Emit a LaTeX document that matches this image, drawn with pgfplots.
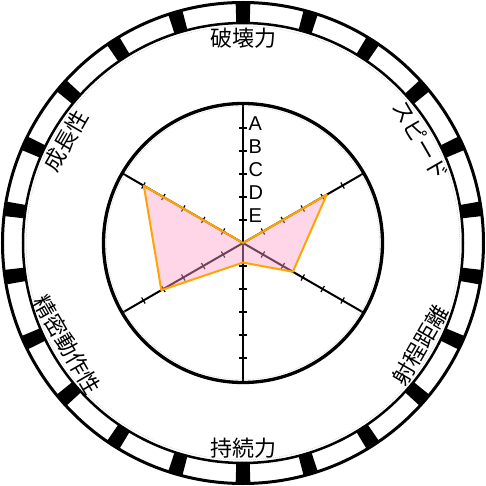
\documentclass[border=0pt]{standalone}
\usepackage{pgfplots}
\pgfplotsset{compat=1.18}
\usepackage{fontspec}
\setmainfont{Liberation Sans}
\newfontfamily\cjk{Noto Sans CJK JP}
\definecolor{fillpink}{RGB}{255,160,202}
\definecolor{lineorange}{RGB}{255,165,0}
\begin{document}
\begin{tikzpicture}
% frame of the picture
\path (-243bp,-243bp) rectangle (243bp,243bp);
% spokes and ticks (under the polygon)
\foreach \a in {90,30,-30,270,210,150}{
  \draw[line width=2bp] (0,0) -- (\a:139.5bp);
  \foreach \k in {1,...,5}{
    \draw[rotate=\a, line width=1.2bp] (\k*23bp,-3.5bp) -- ++(0,7bp);
  }
}
\begin{axis}[
  hide axis, scale only axis,
  x=23bp, y=23bp,
  xmin=-10.565, xmax=10.565, ymin=-10.565, ymax=10.565,
  clip=false, anchor=origin, at={(0,0)}]
\addplot[fill=fillpink, fill opacity=0.43, draw=lineorange, draw opacity=1,
  line width=2bp, line join=round, data cs=polar] coordinates {
  (90,0) (30,4.2) (-30,2.5) (270,0.85) (210,4.1) (150,4.98) (90,0)
};
\end{axis}
% rank labels
\foreach \k/\l in {5/A,4/B,3/C,2/D,1/E}{
  \node[anchor=west, inner sep=0pt, font=\fontsize{20bp}{22bp}\selectfont]
    at (5.5bp,\k*23bp+4.5bp) {\l};
}
% inner circle
\draw[gray!45, line width=0.4bp, dash pattern=on 1bp off 1bp] (0,0) circle[radius=136.5bp];
\draw[line width=3.3bp] (0,0) circle[radius=139.5bp];
% outer ring
\draw[gray!45, line width=0.4bp, dash pattern=on 1bp off 1bp] (0,0) circle[radius=216.8bp];
\draw[line width=2.5bp] (0,0) circle[radius=220bp];
\draw[line width=3bp] (0,0) circle[radius=240.5bp];
\foreach \i in {0,...,21}{
  \pgfmathsetmacro\a{90-\i*360/22}
  \fill ({\a-1.75}:220bp) arc[start angle={\a-1.75}, end angle={\a+1.75}, radius=220bp]
    -- ({\a+1.75}:240.5bp) arc[start angle={\a+1.75}, end angle={\a-1.75}, radius=240.5bp] -- cycle;
}
% category labels
\begin{scope}[every node/.style={font=\cjk\fontsize{22bp}{24bp}\selectfont, inner sep=0pt}]
\node at (90:205bp) {破壊力};
\node[rotate=-60] at (30:205bp) {スピード};
\node[rotate=60] at (-30:205bp) {射程距離};
\node at (270:205bp) {持続力};
\node[rotate=-60] at (210:203bp) {精密動作性};
\node[rotate=60] at (150:205bp) {成長性};
\end{scope}
\end{tikzpicture}
\end{document}
